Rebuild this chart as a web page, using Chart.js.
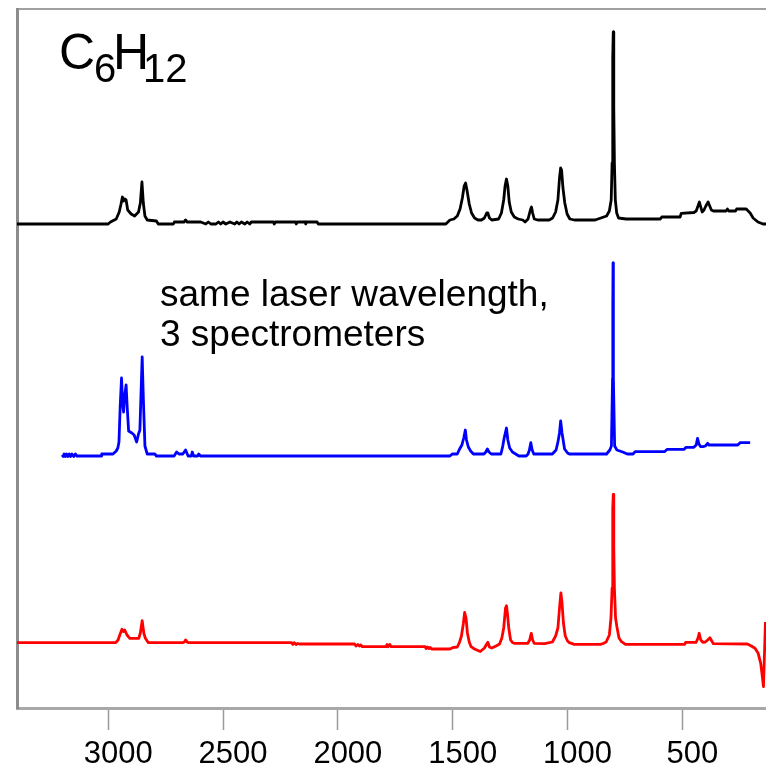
<!DOCTYPE html>
<html>
<head>
<meta charset="utf-8">
<script src="https://cdn.jsdelivr.net/npm/chart.js@4"></script>
<style>
  html, body { margin: 0; padding: 0; background: #fff; }
  canvas { display: block; }
</style>
</head>
<body>
<canvas id="thisChart" width="766" height="769"></canvas>
<script>
// wavenumber range (cm-1), axis runs high -> low
const xMax = 3397
const xMin = 136
const xTicks = [500, 1000, 1500, 2000, 2500, 3000]

// three Raman traces of cyclohexane, [wavenumber, intensity (a.u., stacked)]
const blackTrace = [
  [3397,484],[3000,484],[2990,486],[2965,489],[2952,496],[2945,503],[2938,511],[2933,507],[2928,509],[2922,508],
  [2915,498],[2900,494],[2885,492],[2868,496],[2860,505],[2853,526],[2847,505],[2840,492],[2830,488],[2790,487],
  [2782,484],[2716,484],[2712,486],[2670,486],[2663,488],[2656,486],[2597,486],[2575,484],[2564,486],[2553,484],
  [2531,484],[2520,486],[2510,484],[2500,486],[2488,484],[2470,486],[2449,484],[2440,486],[2430,484],[2420,486],
  [2405,484],[2395,486],[2384,484],[2377,486],[2280,486],[2277,484],[2272,486],[2184,486],[2181,484],[2177,486],
  [2142,486],[2140,484],[2136,486],[2090,486],[2086,484],[1530,484],[1512,488],[1495,489],[1480,492],[1468,499],
  [1458,510],[1450,522],[1444,525],[1438,518],[1428,504],[1418,495],[1405,490],[1390,488],[1375,488],[1362,490],
  [1352,495],[1347,495],[1340,490],[1330,488],[1300,489],[1288,495],[1278,508],[1272,522],[1266,529],[1260,522],
  [1254,506],[1245,496],[1232,491],[1215,489],[1195,488],[1185,486],[1172,489],[1162,498],[1157,501],[1152,495],
  [1145,489],[1130,488],[1080,488],[1065,490],[1052,496],[1042,508],[1035,530],[1030,540],[1026,538],[1020,520],
  [1012,505],[1002,494],[990,489],[970,488],[880,488],[855,490],[830,492],[818,497],[810,508],[806,545],
  [804,600],[802.5,650],[801,676],[799.5,650],[798,600],[796,545],[792,508],[786,495],[778,490],
  [745,489],[596,489],[590,491],[510,491],[505,494.7],[450,495.5],[440,497],[432,502],[426,506],[420,501],
  [414,496],[406,498],[398,502],[388,506],[381,502],[374,498],[365,497],[310,497],[304,499],[298,497],
  [268,497],[264,499],[222,499],[205,495],[192,490],[171,486],[149,484],[136,484]
]

const blueTrace = [
  [3201,253],[3196,251.5],[3192,254],[3187,251.5],[3182,254],[3176,251.5],[3170,254],[3164,251.5],[3158,254],[3150,251.5],
  [3143,254],[3136,252],[3031,252],[3028,254],[2979,254],[2965,257],[2958,260],[2953,266],[2948,300],[2942,330],
  [2937,305],[2933,296],[2929,310],[2922,323],[2917,300],[2911,277],[2897,275],[2887,273],[2876,266],[2868,274],
  [2862,278],[2857,315],[2852,351],[2847,310],[2840,262],[2830,254],[2797,254],[2790,252],[2713,252],[2702,256],
  [2692,254],[2675,254],[2663,258],[2652,252],[2638,252],[2634,256],[2628,252],[2610,252],[2606,254],[2598,252],
  [1512,252],[1502,254],[1480,254],[1470,259],[1460,263],[1452,270],[1445,278],[1440,268],[1432,261],[1422,257],
  [1410,254],[1364,254],[1356,256],[1349,259],[1342,256],[1332,254],[1290,254],[1282,262],[1276,270],[1266,280],
  [1260,268],[1252,260],[1240,256],[1226,254],[1212,252],[1180,252],[1172,254],[1166,258],[1160,265.3],[1154,258],
  [1147,254],[1066,254],[1050,258],[1042,266],[1035,275],[1030,287],[1024,275],[1013,259],[1000,255],[992,254],
  [830,254],[816,258],[809,262],[804,330],[803,400],[802,445],[801,400],[800,330],[795,262],
  [785,258],[760,256],[740,254],[715,254],[706,256.3],[578,256.3],[566,258.7],[492,258.7],[484,260.7],[450,260.7],
  [440,263],[434,269.7],[428,264],[420,261.3],[410,261.3],[400,262],[390,264.7],[384,263],[375,263],[259,263],
  [249,265.3],[205,265.3]
]

const redTrace = [
  [3397,65.3],[2967,65.3],[2957,68],[2948,74],[2940,78.7],[2934,76.5],[2928,78],[2918,73],[2906,69.7],[2867,69.7],
  [2860,75],[2852,87.3],[2845,75],[2838,69.7],[2825,65.3],[2676,65.3],[2668,66],[2663,68],[2656,66],[2650,65.3],
  [2202,65.3],[2196,63.5],[2190,65.3],[2182,63.5],[2175,64.5],[2168,64],[1927,64],[1921,62],[1913,63.5],[1906,62],
  [1900,63],[1894,61.3],[1790,61.3],[1786,63.5],[1781,61.3],[1774,63.5],[1768,61.3],[1620,61.3],[1616,59.5],[1610,61],
  [1604,59.5],[1598,60.5],[1592,59],[1512,59],[1501,60.3],[1480,61],[1470,66],[1462,72],[1454,84],[1448,95.5],
  [1442,90],[1436,75],[1428,66],[1420,61.3],[1405,59],[1390,57.5],[1380,56.5],[1372,58],[1362,60],[1352,64],
  [1347,65.7],[1340,61],[1330,60],[1311,62],[1296,64],[1286,70],[1278,80],[1270,100],[1266,102.3],[1262,95],
  [1256,80],[1248,68],[1240,65.5],[1232,64.7],[1173,64.7],[1165,68],[1158,74.7],[1152,68],[1145,64.7],[1100,64.3],
  [1066,66],[1052,72],[1042,80],[1035,100],[1029,115],[1024,105],[1018,85],[1010,72],[1000,67],[992,65.3],
  [971,63.7],[857,63.7],[845,64.5],[832,66],[818,73],[811,90],[806,120],[804,160],[802.5,200],[801,213.7],
  [799.5,200],[798,160],[796,120],[791,90],[785,81],[776,70],[765,66.3],[748,63.7],[490,63.7],[486,65.7],[440,65.7],
  [432,70],[427,74.7],[420,68],[411,65.7],[400,66],[390,68],[380,70.3],[372,67],[365,64.3],[217,64],
  [200,62],[184,59.7],[170,54.7],[159,44.7],[152,31.3],[147,21.3],[138.5,86]
]

const titleParts = [["C", false], ["6", true], ["H", false], ["12", true]]
const noteLines = ["same laser wavelength,", "3 spectrometers"]

const FONT = '"Liberation Sans", Arial, Helvetica, sans-serif'

function toPoints(trace) {
  return trace.map(p => ({ x: p[0], y: p[1] }))
}

// title and note are plain canvas text drawn after the traces
const textPlugin = {
  id: 'textPlugin',
  afterDraw(chart) {
    const ctx = chart.ctx
    ctx.save()
    ctx.fillStyle = '#000'
    ctx.textAlign = 'left'
    ctx.textBaseline = 'alphabetic'
    const xs = [59, 94, 113, 143]
    titleParts.forEach((part, i) => {
      ctx.font = (part[1] ? '40px ' : '50px ') + FONT
      ctx.fillText(part[0], xs[i], part[1] ? 81.5 : 69)
    })
    ctx.font = '37px ' + FONT
    noteLines.forEach((line, i) => {
      ctx.fillText(line, 160, 306 + i * 40)
    })
    ctx.restore()
  }
}

const data = {
  datasets: [
    { label: 'spectrometer 1', data: toPoints(blackTrace), borderColor: '#000000' },
    { label: 'spectrometer 2', data: toPoints(blueTrace), borderColor: '#0000ff' },
    { label: 'spectrometer 3', data: toPoints(redTrace), borderColor: '#ff0000' },
  ].map(d => Object.assign(d, {
    borderWidth: 2.8,
    pointRadius: 0,
    tension: 0,
    fill: false,
    borderJoinStyle: 'round',
  })),
}

const config = {
  type: 'line',
  data,
  options: {
    responsive: false,
    animation: false,
    devicePixelRatio: 1,
    layout: { padding: 0 },
    plugins: {
      legend: { display: false },
      tooltip: { enabled: false },
    },
    scales: {
      x: {
        type: 'linear',
        position: 'bottom',
        reverse: true,
        min: xMin,
        max: xMax,
        afterBuildTicks: axis => { axis.ticks = xTicks.map(v => ({ value: v })) },
        afterFit: axis => { axis.height = 61 },
        ticks: {
          callback: v => String(v),
          color: '#000',
          font: { family: FONT, size: 31 },
          padding: 5.5,
          labelOffset: 10,
          maxRotation: 0,
          autoSkip: false,
        },
        grid: {
          drawOnChartArea: false,
          drawTicks: true,
          tickLength: 22,
          tickColor: '#9a9a9a',
          tickWidth: 1.5,
        },
        border: { color: '#a8a8a8', width: 3 },
      },
      xt: {
        type: 'linear',
        position: 'top',
        reverse: true,
        min: xMin,
        max: xMax,
        afterFit: axis => { axis.height = 9 },
        ticks: { display: false },
        grid: { drawOnChartArea: false, drawTicks: false },
        border: { color: '#a0a0a0', width: 2 },
      },
      y: {
        min: 0,
        max: 699,
        afterFit: axis => { axis.width = 17 },
        ticks: { display: false },
        grid: { drawOnChartArea: false, drawTicks: false },
        border: { color: '#8c8c8c', width: 3 },
      },
    },
  },
  plugins: [textPlugin],
}

const spectraChart = new Chart(
  document.getElementById('thisChart').getContext('2d'),
  config
)
</script>
</body>
</html>
